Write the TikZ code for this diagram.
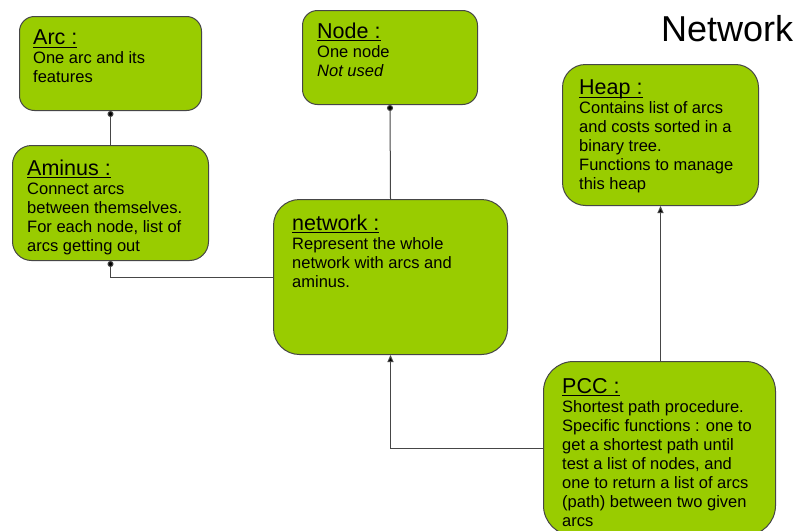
\documentclass[tikz,border=0pt]{standalone}
\usepackage{fontspec}
\setmainfont{Liberation Sans}
\usetikzlibrary{arrows.meta}
\definecolor{boxgreen}{RGB}{153,204,0}
\definecolor{edgegray}{RGB}{70,70,70}
\newcommand\myul[1]{\setbox0\hbox{#1}\rlap{\rule[-2.6pt]{\wd0}{0.9pt}}\box0}
\newcommand\boxhead[1]{{\fontsize{21.5}{19}\selectfont\myul{#1}}}
\begin{document}
\begin{tikzpicture}[x=1pt,y=-1pt,
  box/.style={draw=edgegray, line width=1pt, fill=boxgreen, inner sep=0pt, anchor=north west},
  txt/.style={anchor=north west, inner sep=0pt, align=left, font=\fontsize{16.5}{19}\selectfont},
  conn/.style={draw=edgegray, line width=1pt},
  dotstart/.style={{Circle[length=6pt,fill=black]}-},
  arrowend/.style={-{Triangle[length=7pt,width=6pt,fill=black]}}]
\clip (0,0) rectangle (805,530);
\fill[white] (0,0) rectangle (805,530);
% boxes
\node[box, minimum width=182pt, minimum height=94pt, rounded corners=15pt] (arc) at (19,16) {};
\node[box, minimum width=196pt, minimum height=115pt, rounded corners=19pt] (aminus) at (12,145) {};
\node[box, minimum width=175pt, minimum height=94pt, rounded corners=15pt] (node) at (302,10) {};
\node[box, minimum width=234pt, minimum height=155pt, rounded corners=26pt] (network) at (273,199) {};
\node[box, minimum width=196pt, minimum height=141pt, rounded corners=23pt] (heap) at (562,64) {};
\node[box, minimum width=232pt, minimum height=174pt, rounded corners=30pt] (pcc) at (543,361) {};
% texts
\node[txt] (arcT) at (33,30) {\boxhead{Arc :}\\One arc and its\\features};
\node[txt] (aminusT) at (27,160) {\boxhead{Aminus :}\\Connect arcs\\between themselves.\\For each node, list of\\arcs getting out};
\node[txt] (nodeT) at (317,23) {\boxhead{Node :}\\One node\\\textit{Not used}};
\node[txt] (networkT) at (292,215) {\boxhead{network :}\\Represent the whole\\network with arcs and\\aminus.};
\node[txt] (heapT) at (579,80) {\boxhead{Heap :}\\Contains list of arcs\\and costs sorted in a\\binary tree.\\Functions to manage\\this heap};
\node[txt] (pccT) at (562,378) {\boxhead{PCC :}\\Shortest path procedure.\\Specific functions : one to\\get a shortest path until\\test a list of nodes, and\\one to return a list of arcs\\(path) between two given\\arcs};
% title
\node[anchor=base west, inner sep=0pt, font=\fontsize{36}{40}\selectfont] (title) at (661,41) {Network};
% connectors
\coordinate (pcctop) at (heap.south |- pcc.north);
\draw[conn, dotstart] (arc.south) -- (aminus.north);
\draw[conn, dotstart] (aminus.south) |- (network.west);
\draw[conn, dotstart] (node.south) -- (network.north);
\draw[conn, arrowend] (pcc.west) -| (network.south);
\draw[conn, arrowend] (pcctop) -- (heap.south);
\end{tikzpicture}
\end{document}
